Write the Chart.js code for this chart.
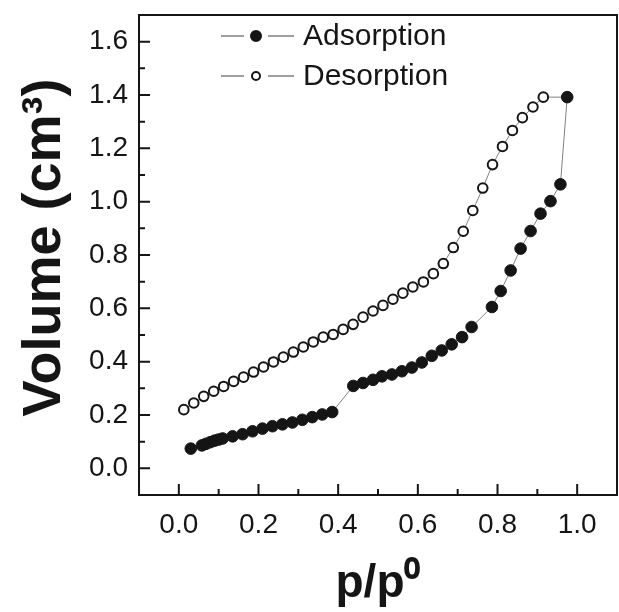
<!DOCTYPE html>
<html>
<head>
<meta charset="utf-8">
<script src="https://cdn.jsdelivr.net/npm/chart.js@4/dist/chart.umd.min.js"></script>
<style>
  html, body { margin: 0; padding: 0; background: #fff; }
  canvas { display: block; }
</style>
</head>
<body>
<canvas id="iso" width="619" height="612"></canvas>
<script>
// isotherm readings (p/p0, volume)
const adsX = [0.03, 0.058, 0.068, 0.079, 0.09, 0.10, 0.11, 0.135, 0.16, 0.185, 0.21, 0.235, 0.26, 0.285, 0.31, 0.335, 0.36, 0.385,
  0.438, 0.4625, 0.4875, 0.51, 0.535, 0.56, 0.585, 0.61, 0.635, 0.66, 0.685, 0.711, 0.735, 0.786, 0.808, 0.833, 0.858, 0.883, 0.908, 0.933, 0.958, 0.975];
const adsY = [0.074, 0.086, 0.092, 0.098, 0.104, 0.108, 0.112, 0.12, 0.128, 0.139, 0.149, 0.158, 0.165, 0.172, 0.182, 0.192, 0.202, 0.211,
  0.309, 0.32, 0.332, 0.345, 0.352, 0.364, 0.378, 0.397, 0.422, 0.442, 0.465, 0.492, 0.53, 0.605, 0.665, 0.742, 0.824, 0.89, 0.955, 1.002, 1.065, 1.392];

// desorption starts from the last adsorption point
const desX = [0.975, 0.915, 0.889, 0.8625, 0.8375, 0.8125, 0.7875, 0.763, 0.738, 0.714, 0.689, 0.664, 0.639, 0.614, 0.5875, 0.5625, 0.5375, 0.5125,
  0.4875, 0.4625, 0.4375, 0.4125, 0.3875, 0.3625, 0.3375, 0.3125, 0.2875, 0.2625, 0.2375, 0.2125, 0.1875, 0.1625, 0.1375, 0.1125, 0.0875, 0.0625, 0.0375, 0.0125];
const desY = [1.392, 1.392, 1.355, 1.315, 1.267, 1.207, 1.139, 1.051, 0.967, 0.889, 0.828, 0.768, 0.73, 0.699, 0.68, 0.657, 0.634, 0.611,
  0.59, 0.567, 0.54, 0.521, 0.502, 0.492, 0.474, 0.455, 0.436, 0.417, 0.399, 0.38, 0.361, 0.342, 0.326, 0.307, 0.289, 0.27, 0.245, 0.22];

const xTicks = [0.0, 0.2, 0.4, 0.6, 0.8, 1.0];
const xMinor = [0.1, 0.3, 0.5, 0.7, 0.9];
const yTicks = [0.0, 0.2, 0.4, 0.6, 0.8, 1.0, 1.2, 1.4, 1.6];
const yMinor = [0.1, 0.3, 0.5, 0.7, 0.9, 1.1, 1.3, 1.5];

const FONT = '"Liberation Sans", Arial, sans-serif';
const INK = '#151515';
const LINE = '#808080';

const toPts = (xs, ys) => xs.map((x, i) => ({ x, y: ys[i] }));

// box frame + inward ticks (Origin style)
const framePlugin = {
  id: 'frame',
  beforeDatasetsDraw(chart) {
    const { ctx, chartArea: a, scales: { x, y } } = chart;
    ctx.save();
    ctx.strokeStyle = INK;
    ctx.lineWidth = 2;
    ctx.beginPath();
    xTicks.forEach(v => { const px = x.getPixelForValue(v); ctx.moveTo(px, a.bottom); ctx.lineTo(px, a.bottom - 11); });
    xMinor.forEach(v => { const px = x.getPixelForValue(v); ctx.moveTo(px, a.bottom); ctx.lineTo(px, a.bottom - 6); });
    yTicks.forEach(v => { const py = y.getPixelForValue(v); ctx.moveTo(a.left, py); ctx.lineTo(a.left + 11, py); });
    yMinor.forEach(v => { const py = y.getPixelForValue(v); ctx.moveTo(a.left, py); ctx.lineTo(a.left + 6, py); });
    ctx.stroke();
    ctx.strokeRect(a.left, a.top, a.right - a.left, a.bottom - a.top);
    ctx.restore();
  }
};

// legend drawn inside the plot: line - marker - line, then label
const legendPlugin = {
  id: 'insideLegend',
  afterDraw(chart) {
    const { ctx } = chart;
    const rows = [{ i: 0, y: 36, r: 5 }, { i: 1, y: 76, r: 4 }];
    ctx.save();
    rows.forEach(row => {
      const ds = chart.data.datasets[row.i];
      ctx.strokeStyle = LINE;
      ctx.lineWidth = 1.5;
      ctx.beginPath();
      ctx.moveTo(221, row.y); ctx.lineTo(244, row.y);
      ctx.moveTo(268, row.y); ctx.lineTo(294, row.y);
      ctx.stroke();
      ctx.beginPath();
      ctx.arc(256, row.y, row.r, 0, Math.PI * 2);
      ctx.fillStyle = ds.pointBackgroundColor;
      ctx.fill();
      ctx.lineWidth = 2;
      ctx.strokeStyle = INK;
      ctx.stroke();
      ctx.fillStyle = INK;
      ctx.font = '30px ' + FONT;
      ctx.textBaseline = 'middle';
      ctx.fillText(ds.label, 303, row.y + 1);
    });
    ctx.restore();
  }
};

new Chart(document.getElementById('iso'), {
  type: 'scatter',
  data: {
    datasets: [
      {
        label: 'Adsorption',
        data: toPts(adsX, adsY),
        showLine: true,
        borderColor: LINE,
        borderWidth: 1,
        pointRadius: 5.8,
        pointBackgroundColor: INK,
        pointBorderColor: INK,
        pointBorderWidth: 1
      },
      {
        label: 'Desorption',
        data: toPts(desX, desY),
        showLine: true,
        borderColor: LINE,
        borderWidth: 1,
        pointRadius: c => (c.dataIndex === 0 ? 0 : 4.8),
        pointBackgroundColor: '#ffffff',
        pointBorderColor: INK,
        pointBorderWidth: 2
      }
    ]
  },
  options: {
    responsive: false,
    devicePixelRatio: 1,
    animation: false,
    events: [],
    layout: { autoPadding: false, padding: { top: 15, right: 2, left: 0, bottom: 0 } },
    plugins: { legend: { display: false }, tooltip: { enabled: false } },
    scales: {
      x: {
        type: 'linear',
        min: -0.1,
        max: 1.1,
        afterBuildTicks: s => { s.ticks = xTicks.map(v => ({ value: v })); },
        afterFit: s => { s.height = 117; s.paddingLeft = 0; s.paddingRight = 0; },
        grid: { display: false, drawTicks: false },
        border: { display: false },
        ticks: { padding: 13, color: INK, font: { family: FONT, size: 28 }, callback: v => v.toFixed(1), maxRotation: 0 },
        title: { display: true, text: 'p/p⁰', color: INK, font: { family: FONT, size: 46, weight: 'bold' }, padding: { top: 0, bottom: 0 } }
      },
      y: {
        type: 'linear',
        min: -0.1,
        max: 1.7,
        afterBuildTicks: s => { s.ticks = yTicks.map(v => ({ value: v })); },
        afterFit: s => { s.width = 139; s.paddingTop = 0; s.paddingBottom = 0; },
        grid: { display: false, drawTicks: false },
        border: { display: false },
        ticks: { padding: 11, color: INK, font: { family: FONT, size: 28 }, callback: v => v.toFixed(1) },
        title: { display: true, text: '\u00A0Volume (cm³)', color: INK, font: { family: FONT, size: 54, weight: 'bold' }, padding: { top: 13, bottom: 0 } }
      }
    }
  },
  plugins: [framePlugin, legendPlugin]
});
</script>
</body>
</html>
